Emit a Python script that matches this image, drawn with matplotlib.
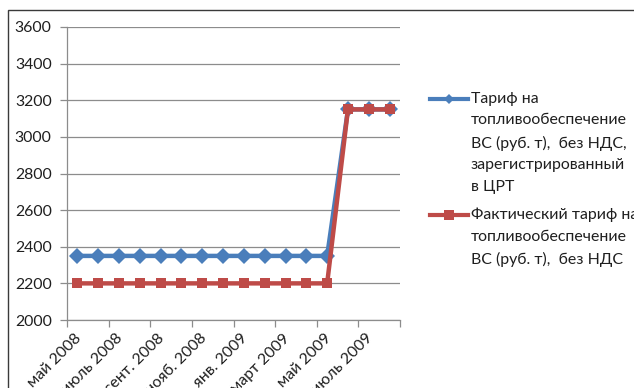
import matplotlib
matplotlib.use("Agg")
import matplotlib.pyplot as plt
from matplotlib.lines import Line2D
from matplotlib.patches import Rectangle

plt.rcParams['font.family'] = ['Lato', 'DejaVu Sans']

# Monthly series, May 2008 .. Aug 2009
months = ['май 2008', 'июнь 2008', 'июль 2008', 'авг. 2008', 'сент. 2008', 'окт. 2008',
          'нояб. 2008', 'дек. 2008', 'янв. 2009', 'февр. 2009', 'март 2009', 'апр. 2009',
          'май 2009', 'июнь 2009', 'июль 2009', 'авг. 2009']
tariff_registered = [2350, 2350, 2350, 2350, 2350, 2350, 2350, 2350,
                     2350, 2350, 2350, 2350, 2350, 3150, 3150, 3150]
tariff_actual = [2200, 2200, 2200, 2200, 2200, 2200, 2200, 2200,
                 2200, 2200, 2200, 2200, 2200, 3150, 3150, 3150]
tick_labels = ['май 2008', 'июль 2008', 'сент. 2008', 'нояб. 2008',
               'янв. 2009', 'март 2009', 'май 2009', 'июль 2009']
y_ticks = [2000, 2200, 2400, 2600, 2800, 3000, 3200, 3400, 3600]

label_registered = 'Тариф на\nтопливообеспечение\nВС (руб. т),  без НДС,\nзарегистрированный\nв ЦРТ'
label_actual = 'Фактический тариф на\nтопливообеспечение\nВС (руб. т),  без НДС'

BLUE = '#4A7EBB'
RED = '#BE4B48'
GRID = '#8C8C8C'
TEXT = '#1F1F1F'
FS = 11.4

W, H = 634, 388
fig = plt.figure(figsize=(W / 100, H / 100), dpi=100)
ax = fig.add_axes([67 / W, 1 - 320 / H, (400 - 67) / W, (320 - 27) / H])

x = list(range(len(months)))
ax.plot(x, tariff_registered, color=BLUE, lw=3.2, marker='D', markersize=8.5,
        markeredgewidth=0, zorder=3)
ax.plot(x, tariff_actual, color=RED, lw=3.2, marker='s', markersize=7.5,
        markeredgewidth=0, zorder=4)

ax.set_xlim(-0.5, len(months) - 0.5)
ax.set_ylim(2000, 3600)
ax.set_yticks(y_ticks)
ax.set_yticklabels([str(v) for v in y_ticks], fontsize=FS, color=TEXT)
ax.yaxis.grid(True, color=GRID, lw=0.9)
ax.set_axisbelow(True)

# Major ticks on two-month boundaries; labels sit under each two-month span
ax.set_xticks([i - 0.5 for i in range(0, len(months) + 1, 2)])
ax.set_xticklabels([])
ax.set_xticks([i - 0.15 for i in range(0, len(months), 2)], minor=True)
ax.set_xticklabels(tick_labels, minor=True, rotation=45, ha='right', va='top',
                   rotation_mode='anchor', fontsize=FS, color=TEXT)
ax.tick_params(axis='x', which='minor', length=0, pad=8)
ax.tick_params(axis='x', which='major', length=5, color=GRID, width=0.9)
ax.tick_params(axis='y', length=5, color=GRID, width=0.9, pad=6)

for side in ('top', 'right'):
    ax.spines[side].set_visible(False)
for side in ('left', 'bottom'):
    ax.spines[side].set_color(GRID)
    ax.spines[side].set_linewidth(0.9)

# Legend entries with the key aligned to the first text line
def legend_entry(y_px, color, marker, msize, text):
    yf = 1 - y_px / H
    fig.add_artist(Line2D([430 / W, 468 / W], [yf, yf], transform=fig.transFigure,
                          color=color, lw=3.0))
    fig.add_artist(Line2D([449 / W], [yf], transform=fig.transFigure, color=color,
                          marker=marker, markersize=msize, markeredgewidth=0, lw=0))
    fig.text(471 / W, 1 - (y_px - 7) / H, text, fontsize=FS, color=TEXT,
             ha='left', va='top', linespacing=1.68, transform=fig.transFigure)

legend_entry(99, BLUE, 'D', 5, label_registered)
legend_entry(215, RED, 's', 6.5, label_actual)

# Chart-area frame
fig.add_artist(Rectangle((8 / W, -0.2), 2.0, 1 - 10 / H + 0.2, transform=fig.transFigure,
                         fill=False, edgecolor='#3A3A3A', lw=1.0))

fig.savefig('out.png', dpi=100)
